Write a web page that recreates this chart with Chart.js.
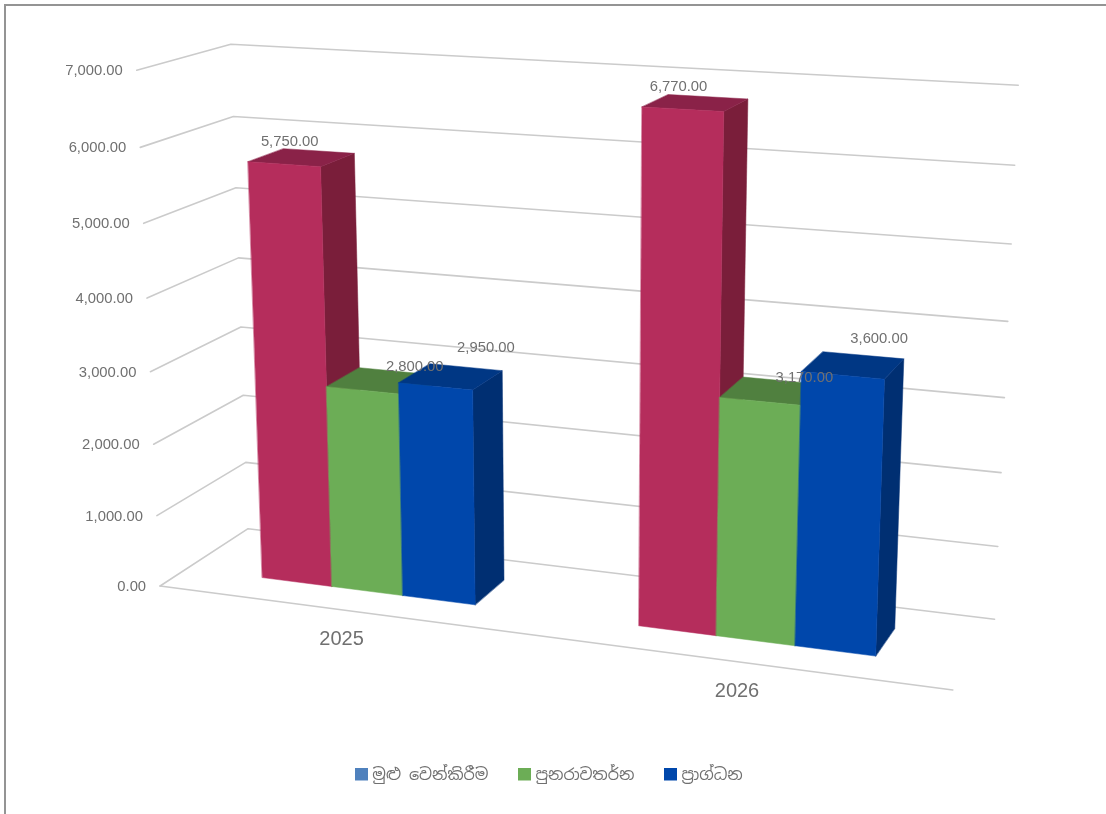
<!DOCTYPE html>
<html>
<head>
<meta charset="utf-8">
<style>
html,body{margin:0;padding:0;background:#fff;overflow:hidden}
#frame{position:absolute;left:4px;top:4px;right:0;bottom:0;border-top:2px solid #949494;border-left:2px solid #949494;pointer-events:none}
canvas{position:absolute;left:0;top:0}
</style>
<script src="https://cdn.jsdelivr.net/npm/chart.js@4/dist/chart.umd.js"></script>
</head>
<body>
<canvas id="c" width="1106" height="814"></canvas>
<div id="frame"></div>
<script>
const categories = ['2025', '2026'];
const seriesNames = ['මුළු වෙන්කිරීම', 'පුනරාවතර්න', 'ප්‍රාග්ධන'];
const totalAllocation = [5750, 6770];
const recurrent = [2800, 3170];
const capital = [2950, 3600];

const legendColors = ['#4F81BD', '#6CAD56', '#0047AB'];
const frontColors = ['#B52D5C', '#6CAD56', '#0047AB'];
const topColors = ['#8A2248', '#50803F', '#003784'];
const sideColors = ['#7A1E3A', '#50803F', '#002F72'];
const labelNudge = [[[-12, -16], [-17, -16]], [[36, -14], [33, -13]], [[35, -29], [26, -26]]];
const FONT = '"Liberation Sans", Arial, sans-serif';
const TEXT = '#707070';
const DEPTH = [0.3, 0.7];

// Camera calibration: plot-box corners (u across, v up, w into the page) to screen.
const cameraAnchors = [
  [0, 0, 0, 161, 585], [1, 0, 0, 953, 690], [0, 0, 1, 247, 529], [1, 0, 1, 995, 619],
  [0, 1, 0, 136, 70], [0, 1, 1, 232, 44], [1, 1, 1, 1018, 85],
  [0, 3 / 7, 0, 150, 373], [0, 3 / 7, 1, 241, 327], [1, 3 / 7, 1, 1004, 398]
];

function solveCamera(pts) {
  const rows = [];
  pts.forEach(([u, v, w, px, py]) => {
    const x = px / 1000, y = py / 1000;
    rows.push([u, v, w, 1, 0, 0, 0, 0, -x * u, -x * v, -x * w, x]);
    rows.push([0, 0, 0, 0, u, v, w, 1, -y * u, -y * v, -y * w, y]);
  });
  const n = 11, M = [];
  for (let i = 0; i < n; i++) {
    M.push([]);
    for (let j = 0; j <= n; j++) M[i].push(rows.reduce((s, r) => s + r[i] * r[j], 0));
  }
  for (let c = 0; c < n; c++) {
    let p = c;
    for (let r = c + 1; r < n; r++) if (Math.abs(M[r][c]) > Math.abs(M[p][c])) p = r;
    [M[c], M[p]] = [M[p], M[c]];
    for (let r = 0; r < n; r++) {
      if (r === c) continue;
      const f = M[r][c] / M[c][c];
      for (let k = c; k <= n; k++) M[r][k] -= f * M[c][k];
    }
  }
  return M.map((row, i) => row[n] / row[i]);
}
const cam = solveCamera(cameraAnchors);
function project(u, v, w) {
  const d = cam[8] * u + cam[9] * v + cam[10] * w + 1;
  return [1000 * (cam[0] * u + cam[1] * v + cam[2] * w + cam[3]) / d,
          1000 * (cam[4] * u + cam[5] * v + cam[6] * w + cam[7]) / d];
}
const fmt = n => Number(n).toLocaleString('en-US', {minimumFractionDigits: 2, maximumFractionDigits: 2});

function poly(ctx, pts, color) {
  ctx.beginPath();
  pts.forEach((p, i) => i ? ctx.lineTo(p[0], p[1]) : ctx.moveTo(p[0], p[1]));
  ctx.closePath();
  ctx.fillStyle = color;
  ctx.strokeStyle = color;
  ctx.lineWidth = 0.5;
  ctx.fill();
  ctx.stroke();
}
function line(ctx, pts) {
  ctx.beginPath();
  pts.forEach((p, i) => i ? ctx.lineTo(p[0], p[1]) : ctx.moveTo(p[0], p[1]));
  ctx.stroke();
}
function swatch(color) {
  const s = document.createElement('canvas');
  s.width = 13; s.height = 17;
  const g = s.getContext('2d');
  g.fillStyle = color;
  g.fillRect(0, 0, 13, 13);
  return s;
}

const perspective3d = {
  id: 'perspective3d',
  beforeDatasetsDraw(chart) {
    const {ctx, chartArea: a, scales: {x: xs, y: ys}} = chart;
    const U = px => (px - a.left) / a.width;
    const V = py => (a.bottom - py) / a.height;
    ctx.save();
    ctx.lineCap = 'round';
    ctx.lineJoin = 'round';

    // walls
    ctx.strokeStyle = '#cbcbcb';
    ctx.lineWidth = 1.6;
    ys.ticks.forEach((t, i) => {
      const v = V(ys.getPixelForTick(i));
      line(ctx, [project(0, v, 0), project(0, v, 1), project(1, v, 1)]);
    });
    line(ctx, [project(0, 0, 0), project(1, 0, 0)]);

    // axis text
    ctx.fillStyle = TEXT;
    ctx.font = '14.8px ' + FONT;
    ctx.textAlign = 'right';
    ctx.textBaseline = 'middle';
    ys.ticks.forEach((t, i) => {
      const p = project(0, V(ys.getPixelForTick(i)), 0);
      ctx.fillText(t.label, p[0] - 14, p[1] + 1);
    });
    ctx.font = '20px ' + FONT;
    ctx.textAlign = 'center';
    xs.ticks.forEach((t, i) => {
      const p = project(U(xs.getPixelForTick(i)), 0, 0);
      ctx.fillText(t.label, p[0] - 1, p[1] + 30);
    });

    // bars
    categories.forEach((_, c) => {
      chart.data.datasets.forEach((ds, s) => {
        const el = chart.getDatasetMeta(s).data[c];
        const u0 = U(el.x - el.width / 2), u1 = U(el.x + el.width / 2);
        const v0 = V(el.base), v1 = V(el.y);
        const [w0, w1] = DEPTH;
        poly(ctx, [project(u1, v0, w0), project(u1, v1, w0), project(u1, v1, w1), project(u1, v0, w1)], sideColors[s]);
        poly(ctx, [project(u0, v1, w0), project(u1, v1, w0), project(u1, v1, w1), project(u0, v1, w1)], topColors[s]);
        poly(ctx, [project(u0, v0, w0), project(u1, v0, w0), project(u1, v1, w0), project(u0, v1, w0)], frontColors[s]);
      });
    });

    // value labels
    ctx.fillStyle = TEXT;
    ctx.font = '14.8px ' + FONT;
    ctx.textAlign = 'center';
    ctx.textBaseline = 'middle';
    chart.data.datasets.forEach((ds, s) => {
      ds.data.forEach((val, c) => {
        const el = chart.getDatasetMeta(s).data[c];
        const p = project(U(el.x), V(el.y), (DEPTH[0] + DEPTH[1]) / 2);
        ctx.fillText(fmt(val), p[0] + labelNudge[s][c][0], p[1] + labelNudge[s][c][1]);
      });
    });
    ctx.restore();
    return false;
  }
};

new Chart(document.getElementById('c'), {
  type: 'bar',
  data: {
    labels: categories,
    datasets: [totalAllocation, recurrent, capital].map((d, i) => ({
      label: seriesNames[i],
      data: d,
      backgroundColor: legendColors[i],
      barPercentage: 1,
      categoryPercentage: 0.578
    }))
  },
  options: {
    responsive: false,
    animation: false,
    layout: {padding: {bottom: 20, right: 4}},
    scales: {
      x: {grid: {display: false}, border: {display: false}, ticks: {display: false}},
      y: {
        min: 0, max: 7000,
        grid: {display: false}, border: {display: false},
        ticks: {display: false, stepSize: 1000, callback: v => fmt(v)}
      }
    },
    plugins: {
      tooltip: {enabled: false},
      legend: {
        position: 'bottom',
        labels: {
          usePointStyle: true, pointStyleWidth: 5, boxHeight: 13, padding: 34, color: TEXT,
          font: {family: '"Noto Sans Sinhala","Noto Sans",' + FONT, size: 16},
          generateLabels(chart) {
            return Chart.defaults.plugins.legend.labels.generateLabels(chart)
              .map((item, i) => ({...item, pointStyle: swatch(legendColors[i])}));
          }
        }
      }
    }
  },
  plugins: [perspective3d]
});
</script>
</body>
</html>
